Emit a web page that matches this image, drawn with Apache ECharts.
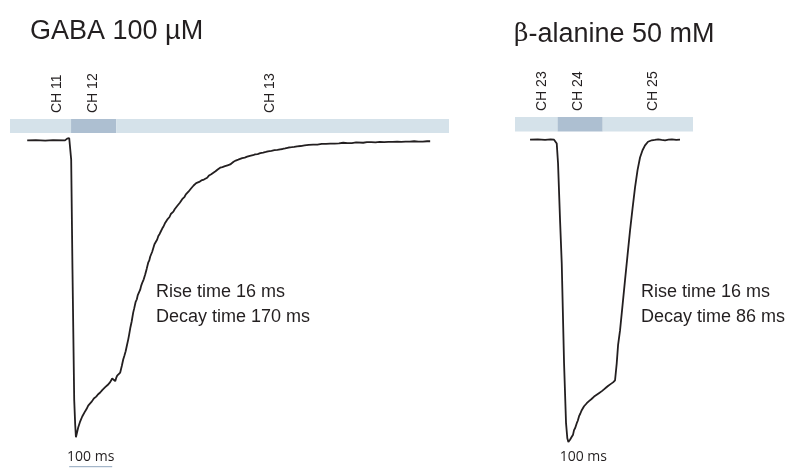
<!DOCTYPE html>
<html>
<head>
<meta charset="utf-8">
<script src="https://cdn.jsdelivr.net/npm/echarts@6/dist/echarts.min.js"></script>
<style>
  html, body { margin: 0; padding: 0; background: #fff; }
  #main { width: 793px; height: 468px; }
</style>
</head>
<body>
<div id="main"></div>
<script>
// 时间单位 ms，电流按峰值归一化（0 = 基线，-1 = 峰值）
let gaba_trace = [
	[0, 0], [20, 0.001], [42, -0.001], [60, 0.001], [88, 0], [93, 0.006], [97.7, 0.008], [100.7, 0.002],
	[102.3, -0.065], [105.3, -0.435], [109.3, -0.873], [111.6, -0.957], [113.3, -1.0], [115.1, -0.994],
	[118.6, -0.967], [121, -0.962], [123.3, -0.946], [128, -0.93], [131, -0.925], [134.9, -0.912],
	[138, -0.905], [141.9, -0.893], [146, -0.889], [150.5, -0.879], [153, -0.878], [155, -0.869],
	[160.5, -0.863], [163, -0.861], [165, -0.855], [169.8, -0.849], [172, -0.846], [175, -0.84],
	[178, -0.839], [181.4, -0.831], [184, -0.83], [187, -0.824], [190, -0.822], [193, -0.814],
	[195, -0.812], [197.7, -0.802], [200, -0.796], [202, -0.806], [204.7, -0.811], [207, -0.8],
	[209.3, -0.792], [212, -0.79], [216.3, -0.782], [220, -0.76], [223.3, -0.738], [226, -0.725],
	[229, -0.71], [232, -0.69], [234.9, -0.671], [237, -0.655], [240, -0.63], [243, -0.61],
	[246.5, -0.58], [249, -0.565], [252, -0.545], [255, -0.535], [257, -0.522], [260, -0.512],
	[262.8, -0.503], [265, -0.49], [268, -0.478], [271, -0.468], [274.4, -0.452], [278, -0.432],
	[281.4, -0.412], [284, -0.404], [286, -0.392], [288, -0.388], [290.7, -0.375], [293, -0.364],
	[296, -0.35], [299, -0.344], [302.3, -0.334], [305, -0.322], [308, -0.315], [311, -0.306],
	[314, -0.297], [317, -0.29], [320, -0.28], [323, -0.276], [325.6, -0.267], [328, -0.262],
	[331, -0.258], [334, -0.248], [337.2, -0.243], [340, -0.24], [343, -0.232], [346, -0.229],
	[348.8, -0.221], [352, -0.215], [355, -0.21], [358, -0.206], [360.5, -0.198], [363, -0.194],
	[366, -0.19], [369, -0.182], [372.1, -0.176], [375, -0.173], [378, -0.168], [381, -0.162],
	[383.7, -0.159], [387, -0.152], [390, -0.15], [393, -0.144], [395.3, -0.142], [400, -0.14],
	[405, -0.135], [411, -0.132], [418.6, -0.126], [423, -0.118], [428, -0.114], [433, -0.109],
	[438, -0.104], [443, -0.098], [448.8, -0.092], [454, -0.09], [460, -0.087], [466, -0.084],
	[472.1, -0.081], [476, -0.075], [480, -0.072], [485, -0.068], [490.7, -0.065], [495, -0.063],
	[500, -0.06], [506, -0.058], [511.6, -0.055], [518, -0.052], [525, -0.05], [530, -0.047],
	[536, -0.046], [542, -0.043], [548.8, -0.041], [555, -0.039], [560, -0.037], [568, -0.035],
	[575, -0.033], [582, -0.032], [588.4, -0.03], [594, -0.029], [600, -0.027], [608, -0.024],
	[615, -0.023], [621, -0.022], [627.9, -0.02], [636, -0.019], [645, -0.017], [655, -0.015],
	[665.1, -0.014], [675, -0.014], [685, -0.012], [695, -0.012], [704.7, -0.011], [715, -0.011],
	[725, -0.01], [735, -0.008], [745, -0.009], [755, -0.009], [765, -0.007], [781.4, -0.008],
	[790, -0.006], [800, -0.006], [810, -0.007], [820, -0.005], [830, -0.006], [840, -0.005],
	[850, -0.005], [860.5, -0.004], [870, -0.005], [880, -0.004], [890, -0.004], [900, -0.003],
	[910, -0.004], [920, -0.004], [930, -0.003], [937.2, -0.003],
];
let alanine_trace = [
	[0, 0], [18, 0.001], [34.9, -0.001], [48, 0.001], [55.8, 0], [62.1, -0.013], [65.1, -0.078],
	[69.8, -0.267], [73.7, -0.409], [79.1, -0.74], [83.7, -0.938], [86.7, -0.988], [89.1, -1.0],
	[93, -0.993], [97, -0.983], [100, -0.976], [102.3, -0.961], [105, -0.954], [108.6, -0.938],
	[111, -0.93], [114, -0.915], [117, -0.906], [120.2, -0.895], [123, -0.889], [125.6, -0.882],
	[128, -0.879], [131.9, -0.872], [135, -0.869], [137, -0.865], [139.5, -0.862], [143, -0.858],
	[146.5, -0.852], [149, -0.85], [152, -0.846], [155, -0.844], [158.1, -0.839], [161, -0.838],
	[164, -0.834], [167, -0.832], [169.8, -0.828], [172, -0.826], [175, -0.821], [177, -0.82],
	[179.1, -0.817], [182, -0.814], [185, -0.81], [188, -0.808], [190, -0.805], [193, -0.803],
	[195.3, -0.799], [197.7, -0.796], [201.6, -0.74], [204.7, -0.68], [209.3, -0.631],
	[215.1, -0.548], [220.9, -0.465], [226.7, -0.383], [232.6, -0.3], [238.4, -0.227], [244.2, -0.158],
	[250, -0.101], [255.8, -0.059], [261.6, -0.035], [267.4, -0.019], [274.4, -0.007], [283, -0.002],
	[290, -0.001], [298, 0.001], [306, -0.001], [314, -0.002], [322, 0], [330, 0.001], [340, -0.001],
	[348.8, 0],
];
// 通道条：[开始, 结束, 标签位置] (ms)
let gaba_channels = [[-40, 102, 70], [102, 207, 154], [207, 981, 565]];
let gaba_channel_names = ['CH 11', 'CH 12', 'CH 13'];
let alanine_channels = [[-35, 64, 27], [64, 169, 112], [169, 379, 286]];
let alanine_channel_names = ['CH 23', 'CH 24', 'CH 25'];
let active_channel = 1; // 给药通道（深色）
// 比例尺：[开始, 结束] (ms)
let gaba_scale = [[97.7, 197.7]];
let alanine_scale = [[74, 174]];
let scale_label = '100 ms';
let titles = ['GABA 100 µM', '{b|β}-alanine 50 mM'];
let gaba_notes = ['Rise time 16 ms', 'Decay time 170 ms'];
let alanine_notes = ['Rise time 16 ms', 'Decay time 86 ms'];

let font = 'Liberation Sans, Arial, sans-serif';
let ink = '#231f20';

// 通道条 + 竖排标签
function channel_series(index, channels, names, top, bottom) {
	return {
		type: 'custom',
		xAxisIndex: index,
		yAxisIndex: index,
		z: 1,
		clip: false,
		encode: { x: [0, 1, 2] },
		data: channels,
		renderItem(params, api) {
			let p0 = api.coord([api.value(0), top]);
			let p1 = api.coord([api.value(1), bottom]);
			let pl = api.coord([api.value(2), top]);
			return {
				type: 'group',
				children: [
					{
						type: 'rect',
						shape: { x: p0[0], y: p0[1], width: p1[0] - p0[0], height: p1[1] - p0[1] },
						style: { fill: params.dataIndex === active_channel ? '#adbfd1' : '#d5e2ea' },
					},
					{
						type: 'text',
						x: pl[0],
						y: pl[1] - 6,
						rotation: Math.PI / 2,
						style: {
							text: names[params.dataIndex],
							fill: ink,
							font: `14px ${font}`,
							align: 'left',
							verticalAlign: 'middle',
						},
					},
				],
			};
		},
	};
}

// 比例尺
function scale_series(index, data, y, show_line) {
	return {
		type: 'custom',
		xAxisIndex: index,
		yAxisIndex: index,
		clip: false,
		encode: { x: [0, 1] },
		data: data,
		renderItem(params, api) {
			let p0 = api.coord([api.value(0), y]);
			let p1 = api.coord([api.value(1), y]);
			let children = [
				{
					type: 'text',
					x: (p0[0] + p1[0]) / 2,
					y: p0[1] - 10,
					style: {
						text: scale_label,
						fill: ink,
						font: `14px "Open Sans", sans-serif`,
						align: 'center',
						verticalAlign: 'middle',
					},
				},
			];
			if (show_line) {
				children.push({
					type: 'line',
					shape: { x1: p0[0], y1: p0[1], x2: p1[0], y2: p1[1] },
					style: { stroke: '#8fa6bd', lineWidth: 1 },
				});
			}
			return { type: 'group', children };
		},
	};
}

function trace_series(index, data) {
	return {
		type: 'line',
		xAxisIndex: index,
		yAxisIndex: index,
		z: 3,
		data: data,
		showSymbol: false,
		smooth: false,
		lineStyle: { color: ink, width: 1.8 },
	};
}

let chart = echarts.init(document.getElementById('main'));
chart.setOption({
	animation: false,
	backgroundColor: '#fff',
	title: [
		{
			text: titles[0],
			left: 30,
			top: 18,
			padding: 0,
			textStyle: { fontFamily: font, fontSize: 27, fontWeight: 'normal', color: ink },
		},
		{
			text: titles[1],
			left: 514,
			top: 21,
			padding: 0,
			textStyle: {
				fontFamily: font,
				fontSize: 27,
				fontWeight: 'normal',
				color: ink,
				rich: { b: { fontFamily: 'DejaVu Serif', fontSize: 25, color: ink } },
			},
		},
	],
	grid: [
		{ left: 10, top: 119, width: 439, height: 348, outerBoundsMode: 'none', containLabel: false },
		{ left: 515, top: 117, width: 178, height: 350, outerBoundsMode: 'none', containLabel: false },
	],
	xAxis: [
		{ type: 'value', gridIndex: 0, min: -40, max: 981, show: false },
		{ type: 'value', gridIndex: 1, min: -35, max: 379, show: false },
	],
	yAxis: [
		{ type: 'value', gridIndex: 0, min: -1.1, max: 0.072, show: false },
		{ type: 'value', gridIndex: 1, min: -1.083, max: 0.075, show: false },
	],
	graphic: [
		{
			type: 'text',
			left: 156,
			top: 280,
			style: { text: gaba_notes.join('\n'), fill: ink, font: `18px ${font}`, lineHeight: 25 },
		},
		{
			type: 'text',
			left: 641,
			top: 280,
			style: { text: alanine_notes.join('\n'), fill: ink, font: `18px ${font}`, lineHeight: 25 },
		},
	],
	series: [
		channel_series(0, gaba_channels, gaba_channel_names, 0.072, 0.025),
		channel_series(1, alanine_channels, alanine_channel_names, 0.075, 0.0274),
		trace_series(0, gaba_trace),
		trace_series(1, alanine_trace),
		scale_series(0, gaba_scale, -1.099, true),
		scale_series(1, alanine_scale, -1.083, false),
	],
});
</script>
</body>
</html>
